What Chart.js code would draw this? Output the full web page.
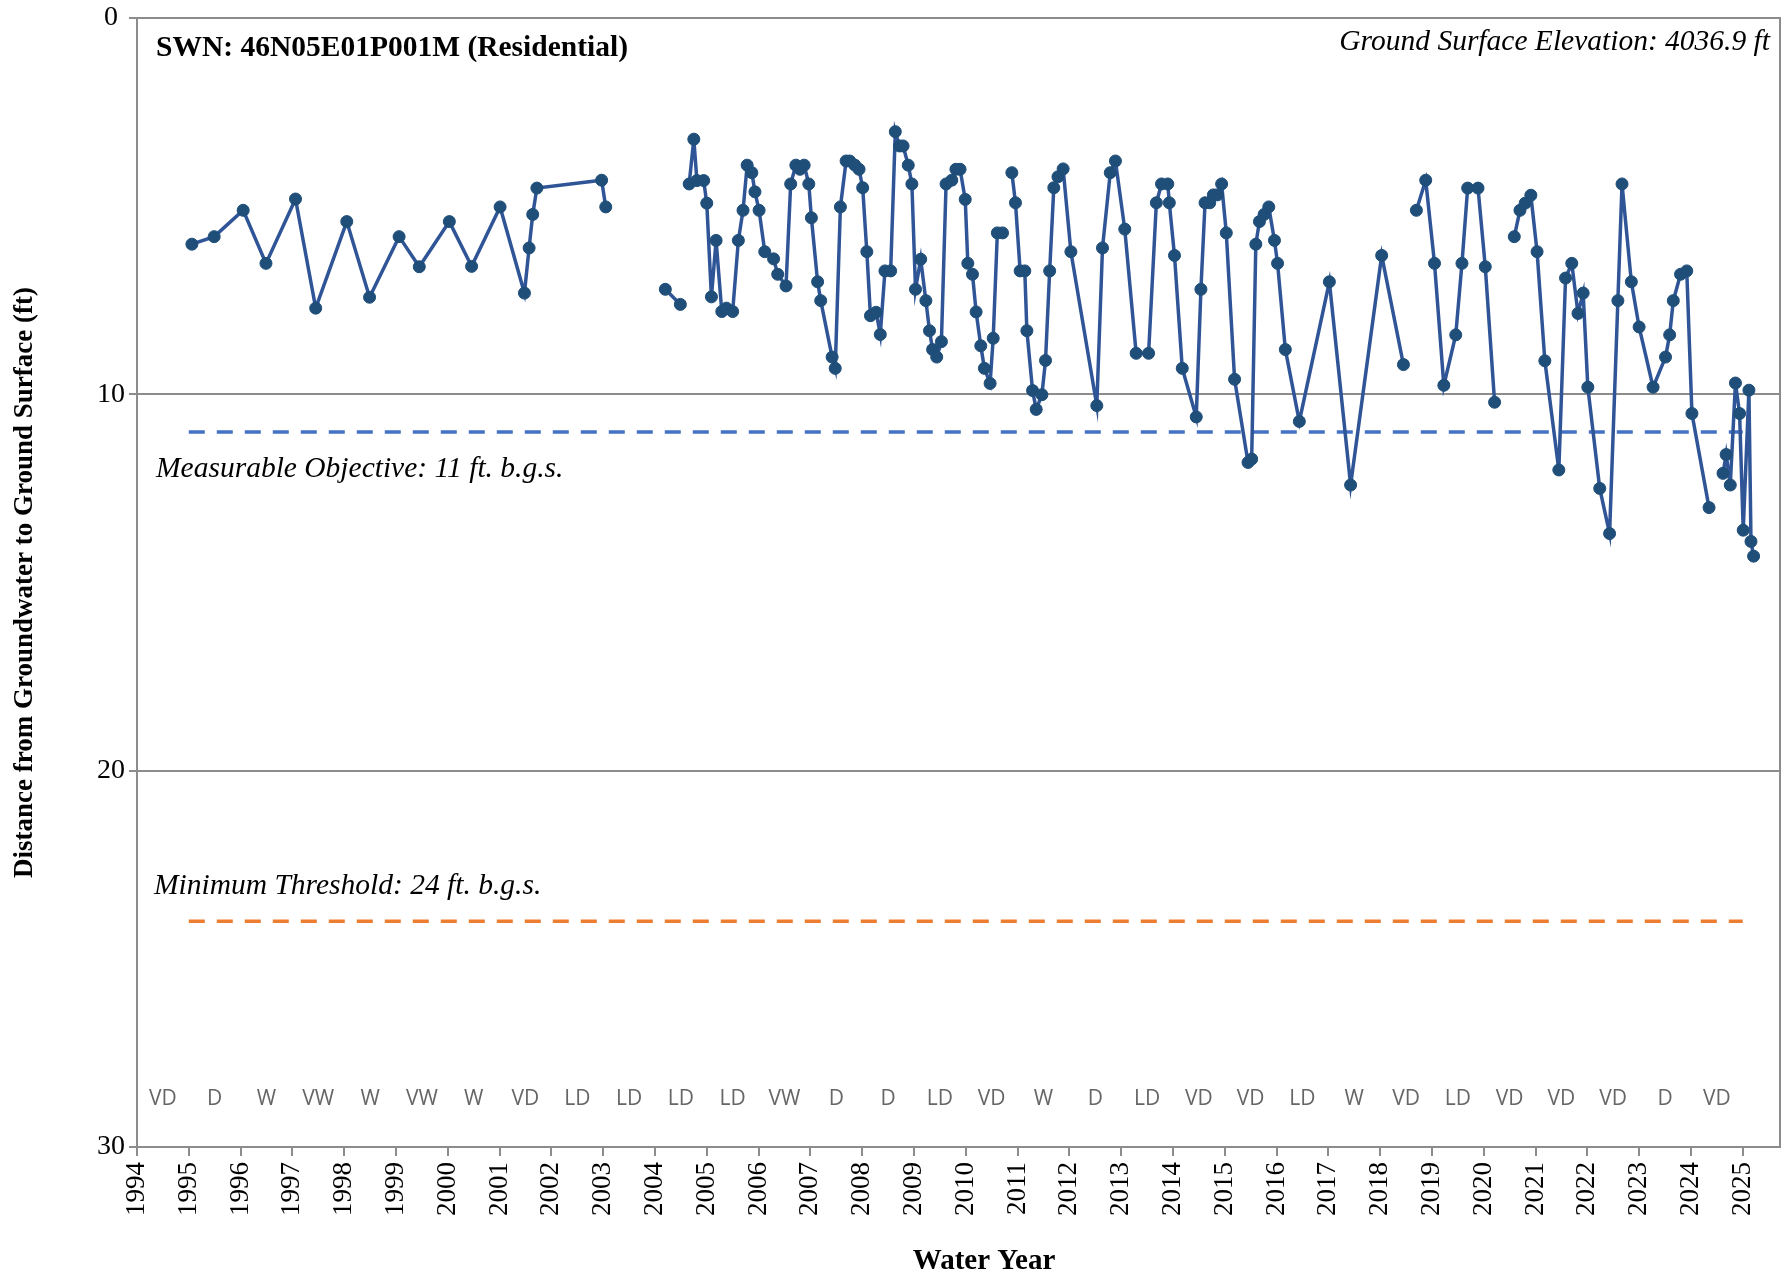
<!DOCTYPE html>
<html>
<head>
<meta charset="utf-8">
<title>SWN 46N05E01P001M hydrograph</title>
<script src="https://cdn.jsdelivr.net/npm/chart.js@4.4.1/dist/chart.umd.min.js"></script>
<style>
  html, body { margin: 0; padding: 0; background: #fff; }
  #wrap { width: 1787px; height: 1279px; }
</style>
</head>
<body>
<div id="wrap"><canvas id="hydro" width="1787" height="1279"></canvas></div>
<script>
// measurement dates (decimal year) and depth to water (ft b.g.s.)
// a null in both lists marks a break in the record
const sampleYear = [
  1995.06, 1995.49, 1996.05, 1996.49, 1997.06, 1997.45, 1998.05, 1998.49, 1999.06, 1999.45,
  2000.03, 2000.46, 2001.01, 2001.48, 2001.57, 2001.64, 2001.72, 2002.97, 2003.05, null,
  2004.20, 2004.49, null,
  2004.66, 2004.75, 2004.81, 2004.94, 2005.00, 2005.09, 2005.18, 2005.29, 2005.38, 2005.50,
  2005.61, 2005.70, 2005.78, 2005.87, 2005.93, 2006.01, 2006.12, 2006.29, 2006.37, 2006.53,
  2006.62, 2006.72, 2006.80, 2006.88, 2006.97, 2007.02, 2007.14, 2007.20, 2007.42, 2007.48,
  2007.58, 2007.69, 2007.76, 2007.86, 2007.94, 2008.01, 2008.09, 2008.16, 2008.27, 2008.35,
  2008.44, 2008.55, 2008.64, 2008.72, 2008.79, 2008.89, 2008.96, 2009.03, 2009.13, 2009.23,
  2009.30, 2009.36, 2009.44, 2009.53, 2009.62, 2009.73, 2009.81, 2009.89, 2009.99, 2010.04,
  2010.13, 2010.20, 2010.29, 2010.36, 2010.47, 2010.53, 2010.61, 2010.71, null,
  2010.89, 2010.96, 2011.05, 2011.14, 2011.18, 2011.29, 2011.36, 2011.47, 2011.54, 2011.62,
  2011.70, 2011.78, 2011.88, 2012.03, 2012.53, 2012.64, 2012.79, 2012.89, 2013.07, 2013.29,
  2013.53, 2013.68, 2013.78, 2013.90, 2013.93, 2014.03, 2014.18, 2014.45, 2014.54, 2014.62,
  2014.71, 2014.78, 2014.86, 2014.94, 2015.03, 2015.19, 2015.45, 2015.52, 2015.60, 2015.67,
  2015.76, 2015.85, 2015.96, 2016.02, 2016.17, 2016.44, 2017.02, 2017.43, 2018.03, 2018.45, null,
  2018.70, 2018.88, 2019.05, 2019.23, 2019.46, 2019.58, 2019.69, 2019.89, 2020.03, 2020.21, null,
  2020.59, 2020.70, 2020.80, 2020.91, 2021.03, 2021.18, 2021.45, 2021.58, 2021.70, 2021.82,
  2021.92, 2022.01, 2022.24, 2022.43, 2022.59, 2022.67, 2022.85, 2023.00, 2023.27, 2023.51,
  2023.59, 2023.66, 2023.80, 2023.92, 2024.02, 2024.35, null,
  2024.62, 2024.68, 2024.76, 2024.86, 2024.94, 2025.01, 2025.12, 2025.16, 2025.21
];
const depthFt = [
  6.01, 5.81, 5.11, 6.52, 4.81, 7.71, 5.41, 7.42, 5.81, 6.61,
  5.41, 6.60, 5.02, 7.31, 6.11, 5.22, 4.52, 4.31, 5.02, null,
  7.21, 7.61, null,
  4.41, 3.22, 4.32, 4.32, 4.92, 7.41, 5.91, 7.80, 7.71, 7.80,
  5.91, 5.11, 3.91, 4.11, 4.62, 5.11, 6.21, 6.40, 6.81, 7.12,
  4.41, 3.91, 4.02, 3.91, 4.41, 5.31, 7.01, 7.51, 9.01, 9.31,
  5.02, 3.80, 3.80, 3.91, 4.02, 4.51, 6.21, 7.91, 7.82, 8.41,
  6.72, 6.72, 3.02, 3.40, 3.40, 3.91, 4.41, 7.21, 6.41, 7.51,
  8.31, 8.81, 9.01, 8.60, 4.41, 4.31, 4.02, 4.02, 4.82, 6.52,
  6.81, 7.81, 8.71, 9.31, 9.71, 8.51, 5.71, 5.71, null,
  4.11, 4.91, 6.72, 6.72, 8.31, 9.90, 10.40, 10.01, 9.10, 6.72,
  4.51, 4.22, 4.01, 6.21, 10.30, 6.11, 4.11, 3.80, 5.61, 8.91,
  8.91, 4.91, 4.41, 4.41, 4.91, 6.31, 9.31, 10.60, 7.21, 4.91,
  4.91, 4.70, 4.70, 4.41, 5.71, 9.60, 11.81, 11.72, 6.01, 5.41,
  5.22, 5.02, 5.91, 6.52, 8.81, 10.72, 7.01, 12.41, 6.31, 9.21, null,
  5.11, 4.31, 6.52, 9.76, 8.42, 6.52, 4.52, 4.52, 6.61, 10.21, null,
  5.81, 5.11, 4.92, 4.71, 6.21, 9.11, 12.01, 6.91, 6.52, 7.85,
  7.31, 9.81, 12.50, 13.70, 7.51, 4.41, 7.01, 8.21, 9.81, 9.01,
  8.42, 7.51, 6.81, 6.72, 10.51, 13.01, null,
  12.10, 11.60, 12.41, 9.70, 10.51, 13.61, 9.89, 13.91, 14.30
];

// sustainability criteria (ft b.g.s.) and the years they are drawn across
const measurableObjective = 11;
const minimumThreshold = 24;
const criteriaYears = [1995, 2025];

// water year types, starting with water year 1994
const yearTypeStart = 1994;
const yearTypes = [
  'VD', 'D', 'W', 'VW', 'W', 'VW', 'W', 'VD', 'LD', 'LD', 'LD', 'LD', 'VW', 'D', 'D', 'LD',
  'VD', 'W', 'D', 'LD', 'VD', 'VD', 'LD', 'W', 'VD', 'LD', 'VD', 'VD', 'VD', 'D', 'VD'
];

const stationLabel = 'SWN: 46N05E01P001M (Residential)';
const elevationLabel = 'Ground Surface Elevation: 4036.9 ft';
const moLabel = 'Measurable Objective: 11 ft. b.g.s.';
const mtLabel = 'Minimum Threshold: 24 ft. b.g.s.';

const serif = '"Liberation Serif", "Times New Roman", serif';
const axisGray = '#8c8c8c';

// build point lists
let lastX = sampleYear[0];
const levelPoints = sampleYear.map((yr, i) => {
  if (yr !== null) lastX = yr;
  return { x: lastX, y: depthFt[i] };
});
const moPoints = criteriaYears.map(yr => ({ x: yr, y: measurableObjective }));
const mtPoints = criteriaYears.map(yr => ({ x: yr, y: minimumThreshold }));

// frame, labels and water year types
const annotations = {
  id: 'annotations',
  beforeDraw(chart) {
    const ctx = chart.ctx;
    ctx.save();
    ctx.fillStyle = '#fff';
    ctx.fillRect(0, 0, chart.width, chart.height);
    ctx.restore();
  },
  beforeDatasetsDraw(chart) {
    const { ctx, chartArea: a } = chart;
    ctx.save();
    ctx.strokeStyle = axisGray;
    ctx.lineWidth = 2;
    ctx.strokeRect(a.left, a.top, a.right - a.left, a.bottom - a.top);
    ctx.restore();
  },
  afterDraw(chart) {
    const { ctx, chartArea: a, scales: { x, y } } = chart;
    ctx.save();
    ctx.fillStyle = '#000';
    ctx.textBaseline = 'middle';

    ctx.font = 'bold 29.5px ' + serif;
    ctx.textAlign = 'left';
    ctx.fillText(stationLabel, a.left + 19, a.top + 30);

    ctx.font = 'italic 29.5px ' + serif;
    ctx.textAlign = 'right';
    ctx.fillText(elevationLabel, a.right - 10, a.top + 24);

    ctx.textAlign = 'left';
    ctx.fillText(moLabel, a.left + 19, y.getPixelForValue(measurableObjective) + 37);
    ctx.fillText(mtLabel, a.left + 17, y.getPixelForValue(minimumThreshold) - 35);

    ctx.font = '21px "Open Sans", sans-serif';
    ctx.fillStyle = '#666';
    ctx.textAlign = 'center';
    const rowY = y.getPixelForValue(28.72);
    yearTypes.forEach((t, i) => {
      ctx.fillText(t, x.getPixelForValue(yearTypeStart + i + 0.5), rowY);
    });

    ctx.font = 'bold 29px ' + serif;
    ctx.fillStyle = '#000';
    ctx.fillText('Water Year', 984, 1262);
    ctx.restore();
  }
};

new Chart(document.getElementById('hydro'), {
  type: 'line',
  data: {
    datasets: [
      {
        label: 'Depth to water',
        data: levelPoints,
        borderColor: '#2f5597',
        borderWidth: 3.5,
        pointRadius: 6,
        pointBackgroundColor: '#1f4e79',
        pointBorderColor: '#1f4e79',
        pointBorderWidth: 1,
        tension: 0,
        spanGaps: false,
        order: 0
      },
      {
        label: 'Measurable Objective',
        data: moPoints,
        borderColor: '#4472c4',
        borderWidth: 3.5,
        borderDash: [16, 12],
        pointRadius: 0,
        order: 1
      },
      {
        label: 'Minimum Threshold',
        data: mtPoints,
        borderColor: '#ed7d31',
        borderWidth: 3.5,
        borderDash: [16, 12],
        pointRadius: 0,
        order: 1
      }
    ]
  },
  options: {
    responsive: false,
    devicePixelRatio: 1,
    animation: false,
    layout: { padding: { top: 16, right: 7, left: 0, bottom: 0 } },
    plugins: {
      legend: { display: false },
      tooltip: { enabled: false }
    },
    scales: {
      x: {
        type: 'linear',
        min: 1994,
        max: 2025.72,
        afterBuildTicks: scale => {
          scale.ticks = scale.ticks.filter(t => Number.isInteger(t.value));
        },
        afterFit: scale => { scale.height = 132; },
        ticks: {
          stepSize: 1,
          autoSkip: false,
          minRotation: 90,
          maxRotation: 90,
          padding: 6,
          color: '#000',
          font: { family: serif, size: 27 },
          callback: v => String(v)
        },
        grid: {
          drawOnChartArea: false,
          drawTicks: true,
          tickLength: 9,
          color: axisGray,
          lineWidth: 2
        },
        border: { color: axisGray, width: 2 }
      },
      y: {
        type: 'linear',
        reverse: true,
        min: 0,
        max: 30,
        afterFit: scale => { scale.width = 137; },
        ticks: {
          stepSize: 10,
          padding: 4,
          crossAlign: 'center',
          color: '#000',
          font: { family: serif, size: 28, lineHeight: 1 }
        },
        grid: {
          color: axisGray,
          lineWidth: 2,
          tickLength: 8
        },
        border: { color: axisGray, width: 2 },
        title: {
          display: true,
          text: 'Distance from Groundwater to Ground Surface (ft)',
          color: '#000',
          font: { family: serif, size: 27, weight: 'bold' },
          padding: { top: 9, bottom: 0 }
        }
      }
    }
  },
  plugins: [annotations]
});
</script>
</body>
</html>
